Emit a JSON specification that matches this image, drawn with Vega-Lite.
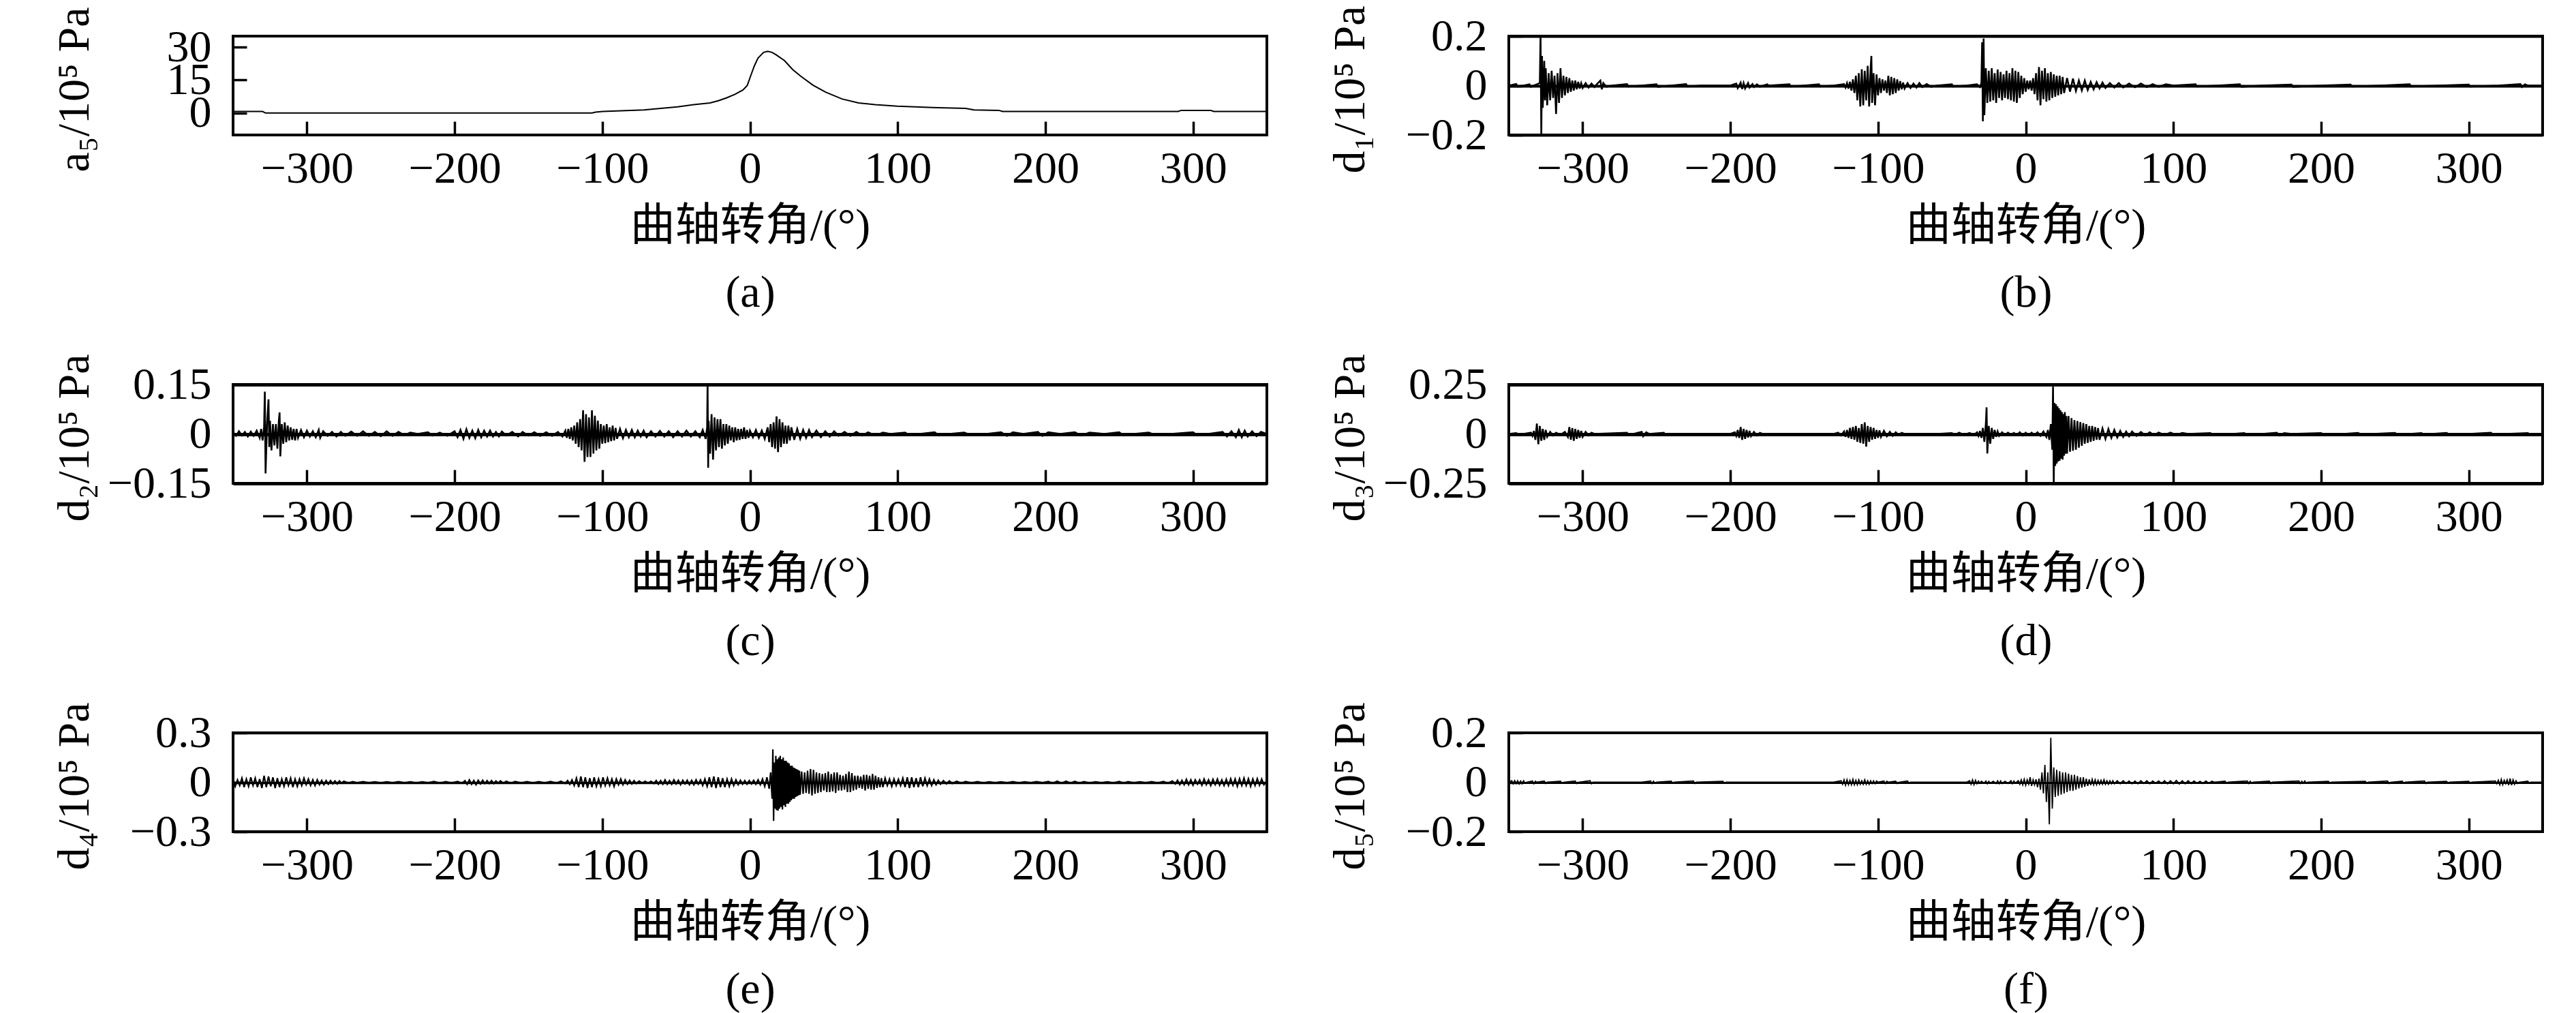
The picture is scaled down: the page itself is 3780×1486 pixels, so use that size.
{
  "$schema": "https://vega.github.io/schema/vega-lite/v6.json",
  "description": "Wavelet decomposition of cylinder pressure: a5 approximation and d1-d5 details vs crank angle",
  "background": "white",
  "padding": {"left": 74, "top": 6, "right": 0, "bottom": 0},
  "autosize": {"type": "pad"},
  "datasets": {
    "a5": [
      {"deg": -350, "val": 0.7}, {"deg": -330, "val": 0.7}, {"deg": -328, "val": 0}, {"deg": -200, "val": 0},
      {"deg": -107, "val": 0}, {"deg": -104.6, "val": 0.4}, {"deg": -99.6, "val": 0.7}, {"deg": -71.7, "val": 1.4},
      {"deg": -60.5, "val": 2.1}, {"deg": -49, "val": 2.8}, {"deg": -38, "val": 3.8}, {"deg": -27, "val": 4.6},
      {"deg": -21.4, "val": 5.6}, {"deg": -15.8, "val": 6.9}, {"deg": -10.2, "val": 8.5}, {"deg": -4.7, "val": 10.5},
      {"deg": -1.8, "val": 12.6}, {"deg": 0.9, "val": 17.7}, {"deg": 3, "val": 21.5}, {"deg": 5.4, "val": 25},
      {"deg": 9.2, "val": 27.6}, {"deg": 12, "val": 28.1}, {"deg": 15, "val": 27.6}, {"deg": 17.7, "val": 26.5},
      {"deg": 23.3, "val": 23.9}, {"deg": 28.9, "val": 19.8}, {"deg": 34.5, "val": 16.7}, {"deg": 42.8, "val": 12.6},
      {"deg": 51.2, "val": 9.5}, {"deg": 62.3, "val": 6.4}, {"deg": 73.5, "val": 4.6}, {"deg": 84.7, "val": 3.8},
      {"deg": 99.8, "val": 3.1}, {"deg": 123.8, "val": 2.5}, {"deg": 146, "val": 2.1}, {"deg": 151.7, "val": 1.4},
      {"deg": 168.5, "val": 1.2}, {"deg": 171, "val": 0.7}, {"deg": 290, "val": 0.7}, {"deg": 292, "val": 1.2},
      {"deg": 312, "val": 1.2}, {"deg": 314, "val": 0.7}, {"deg": 350, "val": 0.7}
    ],
    "d1": [
      {"deg": -350, "val": 0}, {"deg": -345, "val": 0.006}, {"deg": -344, "val": -0.004}, {"deg": -340, "val": 0},
      {"deg": -336, "val": 0.005}, {"deg": -335, "val": -0.005}, {"deg": -333, "val": 0}, {"deg": -329, "val": 0.01},
      {"deg": -328.5, "val": 0.21}, {"deg": -328, "val": -0.21}, {"deg": -327.5, "val": 0.12}, {"deg": -327, "val": -0.09},
      {"deg": -326, "val": 0.1}, {"deg": -325.5, "val": -0.06}, {"deg": -325, "val": 0.07}, {"deg": -324, "val": -0.08},
      {"deg": -323, "val": 0.05}, {"deg": -322, "val": -0.06}, {"deg": -321, "val": 0.06}, {"deg": -320, "val": -0.05},
      {"deg": -319, "val": 0.04}, {"deg": -318, "val": -0.115}, {"deg": -317, "val": 0.05}, {"deg": -316, "val": -0.07},
      {"deg": -315, "val": 0.07}, {"deg": -314, "val": -0.05}, {"deg": -313, "val": 0.04}, {"deg": -312, "val": -0.04},
      {"deg": -311, "val": 0.035}, {"deg": -310, "val": -0.03}, {"deg": -309, "val": 0.03}, {"deg": -308, "val": -0.025},
      {"deg": -307, "val": 0.02}, {"deg": -306, "val": -0.02}, {"deg": -305, "val": 0.02}, {"deg": -304, "val": -0.015},
      {"deg": -303, "val": 0.015}, {"deg": -302, "val": -0.012}, {"deg": -301, "val": 0.01}, {"deg": -300, "val": -0.01},
      {"deg": -298, "val": 0.01}, {"deg": -296, "val": -0.008}, {"deg": -294, "val": 0.008}, {"deg": -292, "val": -0.006},
      {"deg": -290, "val": 0.008}, {"deg": -288, "val": 0.02}, {"deg": -287, "val": -0.015}, {"deg": -286, "val": 0.01},
      {"deg": -284, "val": -0.005}, {"deg": -280, "val": 0}, {"deg": -270, "val": 0.006}, {"deg": -269, "val": -0.004},
      {"deg": -260, "val": 0}, {"deg": -250, "val": 0.005}, {"deg": -249, "val": -0.005}, {"deg": -240, "val": 0},
      {"deg": -230, "val": 0.006}, {"deg": -229, "val": -0.004}, {"deg": -220, "val": 0}, {"deg": -200, "val": 0},
      {"deg": -196, "val": 0.008}, {"deg": -195, "val": -0.01}, {"deg": -193, "val": 0.012}, {"deg": -192, "val": -0.014},
      {"deg": -191, "val": 0.01}, {"deg": -190, "val": -0.012}, {"deg": -188, "val": 0.01}, {"deg": -187, "val": -0.008},
      {"deg": -185, "val": 0.006}, {"deg": -184, "val": -0.006}, {"deg": -182, "val": 0.005}, {"deg": -180, "val": -0.005},
      {"deg": -175, "val": 0.005}, {"deg": -174, "val": 0}, {"deg": -160, "val": 0.005}, {"deg": -159, "val": -0.004},
      {"deg": -150, "val": 0}, {"deg": -140, "val": 0.005}, {"deg": -139, "val": -0.004}, {"deg": -130, "val": 0},
      {"deg": -123, "val": 0.006}, {"deg": -122, "val": -0.008}, {"deg": -121, "val": 0.01}, {"deg": -120, "val": -0.012},
      {"deg": -119, "val": 0.015}, {"deg": -118, "val": -0.02}, {"deg": -117, "val": 0.025}, {"deg": -116, "val": -0.03},
      {"deg": -115, "val": 0.04}, {"deg": -114, "val": -0.06}, {"deg": -113, "val": 0.05}, {"deg": -112, "val": -0.085},
      {"deg": -111, "val": 0.066}, {"deg": -110, "val": -0.08}, {"deg": -109, "val": 0.06}, {"deg": -108, "val": -0.06},
      {"deg": -107, "val": 0.08}, {"deg": -106, "val": -0.085}, {"deg": -105, "val": 0.07}, {"deg": -104.5, "val": 0.12},
      {"deg": -104, "val": -0.07}, {"deg": -103, "val": 0.05}, {"deg": -102, "val": -0.08}, {"deg": -101, "val": 0.045},
      {"deg": -100, "val": -0.04}, {"deg": -99, "val": 0.03}, {"deg": -98, "val": -0.03}, {"deg": -97, "val": 0.025},
      {"deg": -96, "val": -0.02}, {"deg": -95, "val": 0.02}, {"deg": -94, "val": -0.03}, {"deg": -93, "val": 0.04},
      {"deg": -92, "val": -0.04}, {"deg": -91, "val": 0.035}, {"deg": -90, "val": -0.035}, {"deg": -89, "val": 0.03},
      {"deg": -88, "val": -0.03}, {"deg": -87, "val": 0.025}, {"deg": -86, "val": -0.02}, {"deg": -85, "val": 0.018},
      {"deg": -84, "val": -0.015}, {"deg": -83, "val": 0.012}, {"deg": -82, "val": -0.012}, {"deg": -80, "val": 0.01},
      {"deg": -78, "val": -0.01}, {"deg": -76, "val": 0.008}, {"deg": -74, "val": -0.008}, {"deg": -72, "val": 0.01},
      {"deg": -70, "val": -0.006}, {"deg": -67, "val": 0.006}, {"deg": -64, "val": -0.005}, {"deg": -60, "val": 0},
      {"deg": -50, "val": 0.005}, {"deg": -49, "val": -0.004}, {"deg": -40, "val": 0}, {"deg": -33, "val": 0.005},
      {"deg": -31, "val": -0.006}, {"deg": -30, "val": 0.01}, {"deg": -29.5, "val": 0.175}, {"deg": -29, "val": -0.145},
      {"deg": -28.5, "val": 0.19}, {"deg": -28, "val": -0.12}, {"deg": -27, "val": 0.07}, {"deg": -26, "val": -0.07},
      {"deg": -25, "val": 0.06}, {"deg": -24, "val": -0.065}, {"deg": -23, "val": 0.07}, {"deg": -22, "val": -0.06},
      {"deg": -21, "val": 0.05}, {"deg": -20, "val": -0.07}, {"deg": -19, "val": 0.065}, {"deg": -18, "val": -0.05},
      {"deg": -17, "val": 0.055}, {"deg": -16, "val": -0.06}, {"deg": -15, "val": 0.045}, {"deg": -14, "val": -0.05},
      {"deg": -13, "val": 0.06}, {"deg": -12, "val": -0.055}, {"deg": -11, "val": 0.05}, {"deg": -10, "val": -0.06},
      {"deg": -9, "val": 0.07}, {"deg": -8, "val": -0.065}, {"deg": -7, "val": 0.06}, {"deg": -6, "val": -0.07},
      {"deg": -5, "val": 0.055}, {"deg": -4, "val": -0.05}, {"deg": -3, "val": 0.04}, {"deg": -2, "val": -0.035},
      {"deg": -1, "val": 0.03}, {"deg": 0, "val": -0.025}, {"deg": 1, "val": 0.02}, {"deg": 2, "val": -0.015},
      {"deg": 3, "val": 0.02}, {"deg": 4, "val": -0.02}, {"deg": 5, "val": 0.03}, {"deg": 6, "val": -0.035},
      {"deg": 7, "val": 0.05}, {"deg": 8, "val": -0.06}, {"deg": 9, "val": 0.075}, {"deg": 10, "val": -0.08},
      {"deg": 11, "val": 0.06}, {"deg": 12, "val": -0.055}, {"deg": 13, "val": 0.07}, {"deg": 14, "val": -0.065},
      {"deg": 15, "val": 0.05}, {"deg": 16, "val": -0.06}, {"deg": 17, "val": 0.055}, {"deg": 18, "val": -0.05},
      {"deg": 19, "val": 0.045}, {"deg": 20, "val": -0.045}, {"deg": 21, "val": 0.04}, {"deg": 22, "val": -0.04},
      {"deg": 23, "val": 0.04}, {"deg": 24, "val": -0.035}, {"deg": 25, "val": 0.035}, {"deg": 26, "val": -0.03},
      {"deg": 28, "val": 0.03}, {"deg": 30, "val": -0.025}, {"deg": 32, "val": 0.028}, {"deg": 34, "val": -0.022},
      {"deg": 36, "val": 0.02}, {"deg": 38, "val": -0.02}, {"deg": 40, "val": 0.02}, {"deg": 42, "val": -0.018},
      {"deg": 44, "val": 0.015}, {"deg": 46, "val": -0.015}, {"deg": 48, "val": 0.014}, {"deg": 50, "val": -0.012},
      {"deg": 52, "val": 0.012}, {"deg": 54, "val": -0.01}, {"deg": 57, "val": 0.01}, {"deg": 60, "val": -0.008},
      {"deg": 63, "val": 0.01}, {"deg": 66, "val": -0.008}, {"deg": 70, "val": 0.008}, {"deg": 74, "val": -0.007},
      {"deg": 78, "val": 0.008}, {"deg": 82, "val": -0.006}, {"deg": 86, "val": 0.006}, {"deg": 90, "val": -0.005},
      {"deg": 95, "val": 0.005}, {"deg": 100, "val": 0}, {"deg": 115, "val": 0.005}, {"deg": 116, "val": -0.004},
      {"deg": 130, "val": 0}, {"deg": 145, "val": 0.005}, {"deg": 146, "val": -0.005}, {"deg": 160, "val": 0},
      {"deg": 180, "val": 0.004}, {"deg": 181, "val": -0.005}, {"deg": 200, "val": 0}, {"deg": 220, "val": 0.004},
      {"deg": 221, "val": -0.004}, {"deg": 240, "val": 0}, {"deg": 260, "val": 0.005}, {"deg": 261, "val": -0.004},
      {"deg": 280, "val": 0}, {"deg": 300, "val": 0.004}, {"deg": 301, "val": -0.004}, {"deg": 320, "val": 0},
      {"deg": 335, "val": 0.006}, {"deg": 336, "val": -0.006}, {"deg": 338, "val": 0.005}, {"deg": 340, "val": 0},
      {"deg": 350, "val": 0}
    ],
    "d2": [
      {"deg": -350, "val": 0.005}, {"deg": -348, "val": -0.006}, {"deg": -346, "val": 0.008}, {"deg": -344, "val": -0.005},
      {"deg": -342, "val": 0.006}, {"deg": -340, "val": -0.008}, {"deg": -338, "val": 0.007}, {"deg": -336, "val": -0.006},
      {"deg": -334, "val": 0.01}, {"deg": -332, "val": -0.012}, {"deg": -331, "val": 0.015}, {"deg": -330, "val": -0.02},
      {"deg": -329, "val": 0.02}, {"deg": -328.5, "val": 0.128}, {"deg": -328, "val": -0.12}, {"deg": -327, "val": 0.03},
      {"deg": -326, "val": 0.105}, {"deg": -325.5, "val": -0.04}, {"deg": -325, "val": 0.04}, {"deg": -324, "val": -0.05},
      {"deg": -323, "val": 0.03}, {"deg": -322, "val": -0.035}, {"deg": -321, "val": 0.03}, {"deg": -320, "val": -0.045},
      {"deg": -319, "val": 0.04}, {"deg": -318.5, "val": 0.065}, {"deg": -318, "val": -0.068}, {"deg": -317, "val": 0.03},
      {"deg": -316, "val": -0.03}, {"deg": -315, "val": 0.035}, {"deg": -314, "val": -0.025}, {"deg": -313, "val": 0.025},
      {"deg": -312, "val": -0.02}, {"deg": -311, "val": 0.02}, {"deg": -310, "val": -0.018}, {"deg": -309, "val": 0.015},
      {"deg": -308, "val": -0.02}, {"deg": -307, "val": 0.015}, {"deg": -306, "val": -0.012}, {"deg": -304, "val": 0.012},
      {"deg": -302, "val": -0.01}, {"deg": -300, "val": 0.01}, {"deg": -298, "val": -0.008}, {"deg": -296, "val": 0.008},
      {"deg": -294, "val": -0.01}, {"deg": -292, "val": 0.012}, {"deg": -291, "val": -0.012}, {"deg": -289, "val": 0.008},
      {"deg": -286, "val": -0.006}, {"deg": -283, "val": 0.006}, {"deg": -280, "val": -0.008}, {"deg": -277, "val": 0.006},
      {"deg": -274, "val": -0.006}, {"deg": -270, "val": 0.007}, {"deg": -266, "val": -0.006}, {"deg": -262, "val": 0.008},
      {"deg": -258, "val": -0.006}, {"deg": -254, "val": 0.006}, {"deg": -250, "val": -0.007}, {"deg": -246, "val": 0.008},
      {"deg": -242, "val": -0.006}, {"deg": -238, "val": 0.006}, {"deg": -234, "val": -0.004}, {"deg": -230, "val": 0.004},
      {"deg": -225, "val": 0}, {"deg": -218, "val": 0.005}, {"deg": -215, "val": -0.005}, {"deg": -210, "val": 0.004},
      {"deg": -205, "val": -0.006}, {"deg": -200, "val": 0.008}, {"deg": -198, "val": -0.01}, {"deg": -196, "val": 0.012},
      {"deg": -194, "val": -0.015}, {"deg": -192, "val": 0.014}, {"deg": -190, "val": -0.012}, {"deg": -188, "val": 0.01},
      {"deg": -186, "val": -0.013}, {"deg": -184, "val": 0.012}, {"deg": -182, "val": -0.01}, {"deg": -180, "val": 0.01},
      {"deg": -178, "val": -0.008}, {"deg": -176, "val": 0.01}, {"deg": -174, "val": -0.008}, {"deg": -172, "val": 0.006},
      {"deg": -170, "val": -0.008}, {"deg": -168, "val": 0.007}, {"deg": -165, "val": -0.005}, {"deg": -161, "val": 0.006},
      {"deg": -157, "val": -0.008}, {"deg": -154, "val": 0.006}, {"deg": -150, "val": -0.005}, {"deg": -146, "val": 0.005},
      {"deg": -142, "val": -0.006}, {"deg": -138, "val": 0.005}, {"deg": -134, "val": -0.006}, {"deg": -130, "val": 0.006},
      {"deg": -127, "val": -0.008}, {"deg": -125, "val": 0.01}, {"deg": -124, "val": -0.012}, {"deg": -123, "val": 0.015},
      {"deg": -122, "val": -0.015}, {"deg": -121, "val": 0.02}, {"deg": -120, "val": -0.02}, {"deg": -119, "val": 0.025},
      {"deg": -118, "val": -0.03}, {"deg": -117, "val": 0.035}, {"deg": -116, "val": -0.04}, {"deg": -115, "val": 0.045},
      {"deg": -114, "val": -0.05}, {"deg": -113, "val": 0.072}, {"deg": -112, "val": -0.085}, {"deg": -111, "val": 0.06},
      {"deg": -110, "val": -0.07}, {"deg": -109, "val": 0.05}, {"deg": -108, "val": -0.07}, {"deg": -107, "val": 0.072},
      {"deg": -106, "val": -0.06}, {"deg": -105, "val": 0.055}, {"deg": -104, "val": -0.05}, {"deg": -103, "val": 0.04},
      {"deg": -102, "val": -0.045}, {"deg": -101, "val": 0.03}, {"deg": -100, "val": -0.03}, {"deg": -99, "val": 0.025},
      {"deg": -98, "val": -0.028}, {"deg": -97, "val": 0.03}, {"deg": -96, "val": -0.025}, {"deg": -95, "val": 0.02},
      {"deg": -94, "val": -0.022}, {"deg": -93, "val": 0.025}, {"deg": -92, "val": -0.02}, {"deg": -91, "val": 0.018},
      {"deg": -90, "val": -0.015}, {"deg": -88, "val": 0.015}, {"deg": -86, "val": -0.013}, {"deg": -84, "val": 0.012},
      {"deg": -82, "val": -0.01}, {"deg": -80, "val": 0.012}, {"deg": -78, "val": -0.01}, {"deg": -76, "val": 0.01},
      {"deg": -74, "val": -0.008}, {"deg": -72, "val": 0.01}, {"deg": -70, "val": -0.01}, {"deg": -67, "val": 0.008},
      {"deg": -64, "val": -0.008}, {"deg": -61, "val": 0.009}, {"deg": -58, "val": -0.008}, {"deg": -55, "val": 0.008},
      {"deg": -52, "val": -0.01}, {"deg": -49, "val": 0.008}, {"deg": -46, "val": -0.008}, {"deg": -43, "val": 0.01},
      {"deg": -40, "val": -0.008}, {"deg": -37, "val": 0.008}, {"deg": -34, "val": -0.01}, {"deg": -32, "val": 0.012},
      {"deg": -30, "val": -0.015}, {"deg": -29, "val": 0.02}, {"deg": -28.7, "val": 0.16}, {"deg": -28.3, "val": -0.103},
      {"deg": -28, "val": 0.04}, {"deg": -27, "val": -0.06}, {"deg": -26, "val": 0.06}, {"deg": -25, "val": -0.078},
      {"deg": -24, "val": 0.05}, {"deg": -23, "val": -0.05}, {"deg": -22, "val": 0.045}, {"deg": -21, "val": -0.04},
      {"deg": -20, "val": 0.045}, {"deg": -19, "val": -0.045}, {"deg": -18, "val": 0.03}, {"deg": -17, "val": -0.035},
      {"deg": -16, "val": 0.03}, {"deg": -15, "val": -0.03}, {"deg": -14, "val": 0.025}, {"deg": -13, "val": -0.02},
      {"deg": -12, "val": 0.02}, {"deg": -11, "val": -0.025}, {"deg": -10, "val": 0.02}, {"deg": -9, "val": -0.02},
      {"deg": -8, "val": 0.015}, {"deg": -7, "val": -0.018}, {"deg": -6, "val": 0.015}, {"deg": -5, "val": -0.015},
      {"deg": -4, "val": 0.02}, {"deg": -3, "val": -0.015}, {"deg": -2, "val": 0.012}, {"deg": -1, "val": -0.012},
      {"deg": 0, "val": 0.01}, {"deg": 2, "val": -0.01}, {"deg": 4, "val": 0.012}, {"deg": 6, "val": -0.012},
      {"deg": 8, "val": 0.01}, {"deg": 10, "val": -0.015}, {"deg": 12, "val": 0.02}, {"deg": 13, "val": -0.025},
      {"deg": 14, "val": 0.03}, {"deg": 15, "val": -0.04}, {"deg": 16, "val": 0.035}, {"deg": 17, "val": -0.045},
      {"deg": 18, "val": 0.053}, {"deg": 19, "val": -0.055}, {"deg": 20, "val": 0.045}, {"deg": 21, "val": -0.04},
      {"deg": 22, "val": 0.035}, {"deg": 23, "val": -0.03}, {"deg": 24, "val": 0.025}, {"deg": 25, "val": -0.03},
      {"deg": 26, "val": 0.025}, {"deg": 27, "val": -0.02}, {"deg": 28, "val": 0.02}, {"deg": 30, "val": -0.018},
      {"deg": 32, "val": 0.015}, {"deg": 34, "val": -0.015}, {"deg": 36, "val": 0.012}, {"deg": 38, "val": -0.012},
      {"deg": 40, "val": 0.012}, {"deg": 42, "val": -0.01}, {"deg": 45, "val": 0.01}, {"deg": 48, "val": -0.01},
      {"deg": 51, "val": 0.008}, {"deg": 54, "val": -0.008}, {"deg": 57, "val": 0.008}, {"deg": 60, "val": -0.006},
      {"deg": 64, "val": 0.006}, {"deg": 68, "val": -0.006}, {"deg": 72, "val": 0.006}, {"deg": 76, "val": -0.005},
      {"deg": 80, "val": 0.005}, {"deg": 85, "val": -0.005}, {"deg": 90, "val": 0.004}, {"deg": 95, "val": 0},
      {"deg": 105, "val": 0.004}, {"deg": 108, "val": -0.004}, {"deg": 115, "val": 0}, {"deg": 125, "val": 0.005},
      {"deg": 128, "val": -0.005}, {"deg": 135, "val": 0}, {"deg": 145, "val": 0.004}, {"deg": 150, "val": -0.004},
      {"deg": 160, "val": 0}, {"deg": 170, "val": 0.005}, {"deg": 174, "val": -0.006}, {"deg": 178, "val": 0.005},
      {"deg": 185, "val": 0}, {"deg": 195, "val": 0.006}, {"deg": 198, "val": -0.006}, {"deg": 202, "val": 0.005},
      {"deg": 210, "val": 0}, {"deg": 220, "val": 0.005}, {"deg": 224, "val": -0.005}, {"deg": 230, "val": 0.004},
      {"deg": 240, "val": 0}, {"deg": 250, "val": 0.005}, {"deg": 253, "val": -0.005}, {"deg": 260, "val": 0},
      {"deg": 270, "val": 0.004}, {"deg": 275, "val": -0.004}, {"deg": 285, "val": 0}, {"deg": 300, "val": 0.005},
      {"deg": 303, "val": -0.005}, {"deg": 310, "val": 0}, {"deg": 320, "val": 0.006}, {"deg": 323, "val": -0.008},
      {"deg": 326, "val": 0.008}, {"deg": 329, "val": -0.01}, {"deg": 331, "val": 0.012}, {"deg": 333, "val": -0.01},
      {"deg": 335, "val": 0.01}, {"deg": 337, "val": -0.008}, {"deg": 340, "val": 0.008}, {"deg": 343, "val": -0.007},
      {"deg": 346, "val": 0.006}, {"deg": 350, "val": 0}
    ],
    "d3": [
      {"deg": -350, "val": 0}, {"deg": -345, "val": 0.004}, {"deg": -343, "val": -0.004}, {"deg": -340, "val": 0},
      {"deg": -335, "val": 0.006}, {"deg": -334, "val": -0.01}, {"deg": -333, "val": 0.015}, {"deg": -332, "val": -0.03},
      {"deg": -331, "val": 0.052}, {"deg": -330, "val": -0.052}, {"deg": -329, "val": 0.04}, {"deg": -328, "val": -0.035},
      {"deg": -327, "val": 0.025}, {"deg": -326, "val": -0.03}, {"deg": -325, "val": 0.02}, {"deg": -324, "val": -0.015},
      {"deg": -322, "val": 0.01}, {"deg": -320, "val": -0.008}, {"deg": -318, "val": 0.006}, {"deg": -315, "val": -0.005},
      {"deg": -312, "val": 0.01}, {"deg": -310, "val": -0.015}, {"deg": -309, "val": 0.035}, {"deg": -308, "val": -0.03},
      {"deg": -307, "val": 0.03}, {"deg": -306, "val": -0.035}, {"deg": -305, "val": 0.025}, {"deg": -304, "val": -0.025},
      {"deg": -303, "val": 0.02}, {"deg": -302, "val": -0.02}, {"deg": -301, "val": 0.015}, {"deg": -300, "val": -0.015},
      {"deg": -298, "val": 0.01}, {"deg": -296, "val": -0.008}, {"deg": -294, "val": 0.006}, {"deg": -292, "val": 0},
      {"deg": -270, "val": 0.006}, {"deg": -269, "val": -0.006}, {"deg": -260, "val": 0.01}, {"deg": -259, "val": -0.012},
      {"deg": -257, "val": 0.008}, {"deg": -255, "val": 0}, {"deg": -245, "val": 0.006}, {"deg": -244, "val": -0.006},
      {"deg": -238, "val": 0}, {"deg": -200, "val": 0}, {"deg": -197, "val": 0.008}, {"deg": -196, "val": -0.01},
      {"deg": -195, "val": 0.02}, {"deg": -194, "val": -0.02}, {"deg": -193, "val": 0.035}, {"deg": -192, "val": -0.03},
      {"deg": -191, "val": 0.025}, {"deg": -190, "val": -0.025}, {"deg": -189, "val": 0.02}, {"deg": -188, "val": -0.018},
      {"deg": -187, "val": 0.015}, {"deg": -186, "val": -0.012}, {"deg": -184, "val": 0.01}, {"deg": -182, "val": -0.008},
      {"deg": -180, "val": 0.005}, {"deg": -178, "val": 0}, {"deg": -130, "val": 0}, {"deg": -127, "val": 0.006},
      {"deg": -125, "val": -0.008}, {"deg": -123, "val": 0.012}, {"deg": -122, "val": -0.015}, {"deg": -121, "val": 0.02},
      {"deg": -120, "val": -0.02}, {"deg": -119, "val": 0.03}, {"deg": -118, "val": -0.025}, {"deg": -117, "val": 0.035},
      {"deg": -116, "val": -0.03}, {"deg": -115, "val": 0.04}, {"deg": -114, "val": -0.04}, {"deg": -113, "val": 0.03},
      {"deg": -112, "val": -0.045}, {"deg": -111, "val": 0.05}, {"deg": -110, "val": -0.05}, {"deg": -109, "val": 0.058},
      {"deg": -108, "val": -0.064}, {"deg": -107, "val": 0.04}, {"deg": -106, "val": -0.04}, {"deg": -105, "val": 0.035},
      {"deg": -104, "val": -0.03}, {"deg": -103, "val": 0.03}, {"deg": -102, "val": -0.025}, {"deg": -101, "val": 0.02},
      {"deg": -100, "val": -0.02}, {"deg": -99, "val": 0.018}, {"deg": -98, "val": -0.015}, {"deg": -96, "val": 0.015},
      {"deg": -94, "val": -0.012}, {"deg": -92, "val": 0.01}, {"deg": -90, "val": -0.01}, {"deg": -88, "val": 0.008},
      {"deg": -86, "val": -0.006}, {"deg": -84, "val": 0.005}, {"deg": -82, "val": 0}, {"deg": -60, "val": 0},
      {"deg": -50, "val": 0.004}, {"deg": -48, "val": -0.005}, {"deg": -45, "val": 0.006}, {"deg": -42, "val": -0.005},
      {"deg": -38, "val": 0.005}, {"deg": -35, "val": -0.006}, {"deg": -33, "val": 0.008}, {"deg": -32, "val": -0.01},
      {"deg": -31, "val": 0.015}, {"deg": -30, "val": -0.02}, {"deg": -29, "val": 0.03}, {"deg": -28, "val": -0.04},
      {"deg": -27, "val": 0.05}, {"deg": -26.5, "val": 0.134}, {"deg": -26, "val": -0.099}, {"deg": -25, "val": 0.04},
      {"deg": -24, "val": -0.05}, {"deg": -23, "val": 0.03}, {"deg": -22, "val": -0.025}, {"deg": -21, "val": 0.02},
      {"deg": -20, "val": -0.015}, {"deg": -19, "val": 0.012}, {"deg": -18, "val": -0.01}, {"deg": -16, "val": 0.008},
      {"deg": -14, "val": -0.006}, {"deg": -12, "val": 0.006}, {"deg": -10, "val": -0.005}, {"deg": -8, "val": 0.005},
      {"deg": -6, "val": -0.006}, {"deg": -4, "val": 0.008}, {"deg": -2, "val": -0.008}, {"deg": 0, "val": 0.006},
      {"deg": 2, "val": -0.006}, {"deg": 4, "val": 0.006}, {"deg": 6, "val": -0.007}, {"deg": 8, "val": 0.008},
      {"deg": 10, "val": -0.01}, {"deg": 12, "val": 0.012}, {"deg": 14, "val": -0.015}, {"deg": 15, "val": 0.02},
      {"deg": 16, "val": -0.03}, {"deg": 17, "val": 0.05}, {"deg": 18, "val": -0.08}, {"deg": 18.5, "val": 0.239},
      {"deg": 19, "val": -0.26}, {"deg": 19.5, "val": 0.157}, {"deg": 20, "val": -0.162}, {"deg": 20.5, "val": 0.15},
      {"deg": 21, "val": -0.15}, {"deg": 21.5, "val": 0.14}, {"deg": 22, "val": -0.14}, {"deg": 22.5, "val": 0.13},
      {"deg": 23, "val": -0.135}, {"deg": 23.5, "val": 0.12}, {"deg": 24, "val": -0.125}, {"deg": 24.5, "val": 0.11},
      {"deg": 25, "val": -0.13}, {"deg": 25.5, "val": 0.1}, {"deg": 26, "val": -0.11}, {"deg": 26.5, "val": 0.11},
      {"deg": 27, "val": -0.1}, {"deg": 27.5, "val": 0.09}, {"deg": 28, "val": -0.1}, {"deg": 29, "val": 0.09},
      {"deg": 30, "val": -0.09}, {"deg": 31, "val": 0.08}, {"deg": 32, "val": -0.085}, {"deg": 33, "val": 0.07},
      {"deg": 34, "val": -0.08}, {"deg": 35, "val": 0.065}, {"deg": 36, "val": -0.07}, {"deg": 37, "val": 0.06},
      {"deg": 38, "val": -0.06}, {"deg": 39, "val": 0.055}, {"deg": 40, "val": -0.05}, {"deg": 41, "val": 0.05},
      {"deg": 42, "val": -0.045}, {"deg": 43, "val": 0.04}, {"deg": 44, "val": -0.04}, {"deg": 45, "val": 0.04},
      {"deg": 46, "val": -0.035}, {"deg": 47, "val": 0.035}, {"deg": 48, "val": -0.03}, {"deg": 49, "val": 0.03},
      {"deg": 50, "val": -0.03}, {"deg": 52, "val": 0.028}, {"deg": 54, "val": -0.025}, {"deg": 56, "val": 0.025},
      {"deg": 58, "val": -0.02}, {"deg": 60, "val": 0.02}, {"deg": 62, "val": -0.018}, {"deg": 64, "val": 0.015},
      {"deg": 66, "val": -0.015}, {"deg": 68, "val": 0.012}, {"deg": 70, "val": -0.012}, {"deg": 72, "val": 0.012},
      {"deg": 75, "val": -0.01}, {"deg": 78, "val": 0.01}, {"deg": 81, "val": -0.008}, {"deg": 84, "val": 0.008},
      {"deg": 87, "val": -0.007}, {"deg": 90, "val": 0.007}, {"deg": 94, "val": -0.006}, {"deg": 98, "val": 0.006},
      {"deg": 102, "val": -0.005}, {"deg": 106, "val": 0.005}, {"deg": 110, "val": 0}, {"deg": 125, "val": 0.004},
      {"deg": 127, "val": -0.004}, {"deg": 140, "val": 0}, {"deg": 148, "val": 0.004}, {"deg": 150, "val": -0.005},
      {"deg": 160, "val": 0}, {"deg": 170, "val": 0.006}, {"deg": 172, "val": -0.008}, {"deg": 175, "val": 0.004},
      {"deg": 180, "val": 0}, {"deg": 200, "val": 0.004}, {"deg": 202, "val": -0.004}, {"deg": 215, "val": 0},
      {"deg": 225, "val": 0.005}, {"deg": 228, "val": -0.006}, {"deg": 235, "val": 0}, {"deg": 250, "val": 0.005},
      {"deg": 252, "val": -0.005}, {"deg": 260, "val": 0}, {"deg": 268, "val": 0.004}, {"deg": 270, "val": -0.005},
      {"deg": 275, "val": 0}, {"deg": 285, "val": 0.005}, {"deg": 287, "val": -0.004}, {"deg": 300, "val": 0},
      {"deg": 315, "val": 0.006}, {"deg": 317, "val": -0.005}, {"deg": 325, "val": 0}, {"deg": 340, "val": 0.004},
      {"deg": 342, "val": -0.006}, {"deg": 345, "val": 0}, {"deg": 350, "val": 0}
    ],
    "d4": [
      {"deg": -350, "val": 0.02}, {"deg": -348.5, "val": -0.025}, {"deg": -347, "val": 0.015}, {"deg": -345.5, "val": -0.02},
      {"deg": -344, "val": 0.025}, {"deg": -342.5, "val": -0.03}, {"deg": -341, "val": 0.02}, {"deg": -339.5, "val": -0.025},
      {"deg": -338, "val": 0.03}, {"deg": -336.5, "val": -0.02}, {"deg": -335, "val": 0.025}, {"deg": -333.5, "val": -0.03},
      {"deg": -332, "val": 0.02}, {"deg": -330.5, "val": -0.035}, {"deg": -329, "val": 0.04}, {"deg": -327.5, "val": -0.03},
      {"deg": -326, "val": 0.035}, {"deg": -324.5, "val": -0.025}, {"deg": -323, "val": 0.03}, {"deg": -321.5, "val": -0.035},
      {"deg": -320, "val": 0.025}, {"deg": -318.5, "val": -0.03}, {"deg": -317, "val": 0.02}, {"deg": -315.5, "val": -0.025},
      {"deg": -314, "val": 0.03}, {"deg": -312.5, "val": -0.02}, {"deg": -311, "val": 0.025}, {"deg": -309.5, "val": -0.03},
      {"deg": -308, "val": 0.02}, {"deg": -306.5, "val": -0.025}, {"deg": -305, "val": 0.02}, {"deg": -303.5, "val": -0.02},
      {"deg": -302, "val": 0.025}, {"deg": -300.5, "val": -0.015}, {"deg": -299, "val": 0.02}, {"deg": -297.5, "val": -0.02},
      {"deg": -296, "val": 0.015}, {"deg": -294.5, "val": -0.02}, {"deg": -293, "val": 0.015}, {"deg": -291.5, "val": -0.015},
      {"deg": -290, "val": 0.012}, {"deg": -288.5, "val": -0.015}, {"deg": -287, "val": 0.01}, {"deg": -285.5, "val": -0.012},
      {"deg": -284, "val": 0.01}, {"deg": -282.5, "val": -0.01}, {"deg": -281, "val": 0.008}, {"deg": -279.5, "val": -0.01},
      {"deg": -278, "val": 0.008}, {"deg": -276.5, "val": -0.006}, {"deg": -275, "val": 0.006}, {"deg": -272, "val": -0.005},
      {"deg": -269, "val": 0.004}, {"deg": -266, "val": -0.003}, {"deg": -262, "val": 0.004}, {"deg": -258, "val": -0.003},
      {"deg": -254, "val": 0.003}, {"deg": -250, "val": -0.004}, {"deg": -246, "val": 0.003}, {"deg": -242, "val": -0.003},
      {"deg": -238, "val": 0.004}, {"deg": -234, "val": -0.003}, {"deg": -230, "val": 0.003}, {"deg": -226, "val": -0.004},
      {"deg": -222, "val": 0.003}, {"deg": -218, "val": -0.003}, {"deg": -214, "val": 0.005}, {"deg": -210, "val": -0.005},
      {"deg": -206, "val": 0.004}, {"deg": -202, "val": -0.004}, {"deg": -198, "val": 0.005}, {"deg": -195, "val": -0.006},
      {"deg": -193, "val": 0.01}, {"deg": -191.5, "val": -0.012}, {"deg": -190, "val": 0.015}, {"deg": -188.5, "val": -0.012},
      {"deg": -187, "val": 0.01}, {"deg": -185.5, "val": -0.015}, {"deg": -184, "val": 0.012}, {"deg": -182.5, "val": -0.01},
      {"deg": -181, "val": 0.012}, {"deg": -179.5, "val": -0.008}, {"deg": -178, "val": 0.01}, {"deg": -176.5, "val": -0.008},
      {"deg": -175, "val": 0.01}, {"deg": -173.5, "val": -0.008}, {"deg": -172, "val": 0.008}, {"deg": -170.5, "val": -0.006},
      {"deg": -169, "val": 0.008}, {"deg": -167, "val": -0.006}, {"deg": -165, "val": 0.006}, {"deg": -162, "val": -0.006},
      {"deg": -159, "val": 0.005}, {"deg": -155, "val": -0.004}, {"deg": -151, "val": 0.004}, {"deg": -147, "val": -0.004},
      {"deg": -143, "val": 0.004}, {"deg": -139, "val": -0.004}, {"deg": -135, "val": 0.005}, {"deg": -131, "val": -0.005},
      {"deg": -128, "val": 0.006}, {"deg": -125, "val": -0.008}, {"deg": -123.5, "val": 0.01}, {"deg": -122, "val": -0.012},
      {"deg": -120.5, "val": 0.015}, {"deg": -119, "val": -0.02}, {"deg": -117.5, "val": 0.025}, {"deg": -116, "val": -0.03},
      {"deg": -114.5, "val": 0.035}, {"deg": -113, "val": -0.03}, {"deg": -111.5, "val": 0.03}, {"deg": -110, "val": -0.035},
      {"deg": -108.5, "val": 0.025}, {"deg": -107, "val": -0.03}, {"deg": -105.5, "val": 0.03}, {"deg": -104, "val": -0.025},
      {"deg": -102.5, "val": 0.02}, {"deg": -101, "val": -0.025}, {"deg": -99.5, "val": 0.03}, {"deg": -98, "val": -0.02},
      {"deg": -96.5, "val": 0.025}, {"deg": -95, "val": -0.02}, {"deg": -93.5, "val": 0.02}, {"deg": -92, "val": -0.025},
      {"deg": -90.5, "val": 0.02}, {"deg": -89, "val": -0.015}, {"deg": -87.5, "val": 0.02}, {"deg": -86, "val": -0.015},
      {"deg": -84.5, "val": 0.015}, {"deg": -83, "val": -0.012}, {"deg": -81.5, "val": 0.012}, {"deg": -80, "val": -0.01},
      {"deg": -78.5, "val": 0.01}, {"deg": -77, "val": -0.008}, {"deg": -75, "val": 0.008}, {"deg": -73, "val": -0.006},
      {"deg": -71, "val": 0.006}, {"deg": -69, "val": -0.005}, {"deg": -67, "val": 0.006}, {"deg": -65, "val": -0.008},
      {"deg": -63.5, "val": 0.01}, {"deg": -62, "val": -0.012}, {"deg": -60.5, "val": 0.01}, {"deg": -59, "val": -0.012},
      {"deg": -57.5, "val": 0.015}, {"deg": -56, "val": -0.012}, {"deg": -54.5, "val": 0.01}, {"deg": -53, "val": -0.012},
      {"deg": -51.5, "val": 0.015}, {"deg": -50, "val": -0.01}, {"deg": -48.5, "val": 0.012}, {"deg": -47, "val": -0.015},
      {"deg": -45.5, "val": 0.012}, {"deg": -44, "val": -0.01}, {"deg": -42.5, "val": 0.012}, {"deg": -41, "val": -0.015},
      {"deg": -39.5, "val": 0.012}, {"deg": -38, "val": -0.015}, {"deg": -36.5, "val": 0.015}, {"deg": -35, "val": -0.012},
      {"deg": -33.5, "val": 0.015}, {"deg": -32, "val": -0.02}, {"deg": -30.5, "val": 0.02}, {"deg": -29, "val": -0.025},
      {"deg": -27.5, "val": 0.03}, {"deg": -26, "val": -0.03}, {"deg": -24.5, "val": 0.035}, {"deg": -23, "val": -0.035},
      {"deg": -21.5, "val": 0.03}, {"deg": -20, "val": -0.03}, {"deg": -18.5, "val": 0.025}, {"deg": -17, "val": -0.03},
      {"deg": -15.5, "val": 0.02}, {"deg": -14, "val": -0.025}, {"deg": -12.5, "val": 0.02}, {"deg": -11, "val": -0.02},
      {"deg": -9.5, "val": 0.015}, {"deg": -8, "val": -0.015}, {"deg": -6.5, "val": 0.012}, {"deg": -5, "val": -0.012},
      {"deg": -3.5, "val": 0.01}, {"deg": -2, "val": -0.012}, {"deg": -0.5, "val": 0.01}, {"deg": 1, "val": -0.01},
      {"deg": 2.5, "val": 0.012}, {"deg": 4, "val": -0.012}, {"deg": 5.5, "val": 0.015}, {"deg": 7, "val": -0.015},
      {"deg": 8.5, "val": 0.02}, {"deg": 10, "val": -0.025}, {"deg": 11.5, "val": 0.03}, {"deg": 13, "val": -0.04},
      {"deg": 14, "val": 0.06}, {"deg": 15, "val": -0.1}, {"deg": 15.5, "val": 0.2}, {"deg": 16, "val": -0.235},
      {"deg": 16.5, "val": 0.12}, {"deg": 17, "val": -0.16}, {"deg": 17.5, "val": 0.16}, {"deg": 18, "val": -0.17},
      {"deg": 18.5, "val": 0.14}, {"deg": 19, "val": -0.173}, {"deg": 19.5, "val": 0.15}, {"deg": 20, "val": -0.16},
      {"deg": 20.5, "val": 0.16}, {"deg": 21, "val": -0.15}, {"deg": 21.5, "val": 0.14}, {"deg": 22, "val": -0.165},
      {"deg": 22.5, "val": 0.15}, {"deg": 23, "val": -0.14}, {"deg": 23.5, "val": 0.13}, {"deg": 24, "val": -0.15},
      {"deg": 24.5, "val": 0.13}, {"deg": 25, "val": -0.13}, {"deg": 25.5, "val": 0.12}, {"deg": 26, "val": -0.13},
      {"deg": 26.5, "val": 0.115}, {"deg": 27, "val": -0.12}, {"deg": 27.5, "val": 0.1}, {"deg": 28, "val": -0.11},
      {"deg": 28.5, "val": 0.1}, {"deg": 29, "val": -0.1}, {"deg": 29.5, "val": 0.09}, {"deg": 30, "val": -0.1},
      {"deg": 30.5, "val": 0.085}, {"deg": 31, "val": -0.09}, {"deg": 31.5, "val": 0.08}, {"deg": 32, "val": -0.085},
      {"deg": 32.5, "val": 0.075}, {"deg": 33, "val": -0.08}, {"deg": 33.5, "val": 0.07}, {"deg": 34, "val": -0.075},
      {"deg": 35, "val": 0.065}, {"deg": 36, "val": -0.07}, {"deg": 37, "val": 0.06}, {"deg": 38, "val": -0.065},
      {"deg": 39, "val": 0.07}, {"deg": 40, "val": -0.07}, {"deg": 41, "val": 0.08}, {"deg": 42, "val": -0.08},
      {"deg": 43, "val": 0.075}, {"deg": 44, "val": -0.07}, {"deg": 45, "val": 0.06}, {"deg": 46, "val": -0.065},
      {"deg": 47, "val": 0.055}, {"deg": 48, "val": -0.06}, {"deg": 49, "val": 0.05}, {"deg": 50, "val": -0.05},
      {"deg": 51, "val": 0.055}, {"deg": 52, "val": -0.06}, {"deg": 53, "val": 0.065}, {"deg": 54, "val": -0.06},
      {"deg": 55, "val": 0.05}, {"deg": 56, "val": -0.055}, {"deg": 57, "val": 0.06}, {"deg": 58, "val": -0.065},
      {"deg": 59, "val": 0.06}, {"deg": 60, "val": -0.05}, {"deg": 61, "val": 0.045}, {"deg": 62, "val": -0.05},
      {"deg": 63, "val": 0.04}, {"deg": 64, "val": -0.045}, {"deg": 65, "val": 0.05}, {"deg": 66, "val": -0.06},
      {"deg": 67, "val": 0.065}, {"deg": 68, "val": -0.06}, {"deg": 69, "val": 0.055}, {"deg": 70, "val": -0.05},
      {"deg": 71, "val": 0.04}, {"deg": 72, "val": -0.045}, {"deg": 73, "val": 0.04}, {"deg": 74, "val": -0.035},
      {"deg": 75, "val": 0.035}, {"deg": 76, "val": -0.04}, {"deg": 77, "val": 0.045}, {"deg": 78, "val": -0.05},
      {"deg": 79, "val": 0.045}, {"deg": 80, "val": -0.04}, {"deg": 81, "val": 0.04}, {"deg": 82, "val": -0.045},
      {"deg": 83, "val": 0.05}, {"deg": 84, "val": -0.045}, {"deg": 85, "val": 0.04}, {"deg": 86, "val": -0.035},
      {"deg": 87, "val": 0.03}, {"deg": 88, "val": -0.03}, {"deg": 89, "val": 0.025}, {"deg": 90, "val": -0.03},
      {"deg": 91.5, "val": 0.025}, {"deg": 93, "val": -0.02}, {"deg": 94.5, "val": 0.02}, {"deg": 96, "val": -0.025},
      {"deg": 97.5, "val": 0.02}, {"deg": 99, "val": -0.02}, {"deg": 100.5, "val": 0.018}, {"deg": 102, "val": -0.02},
      {"deg": 103.5, "val": 0.025}, {"deg": 105, "val": -0.03}, {"deg": 106.5, "val": 0.03}, {"deg": 108, "val": -0.035},
      {"deg": 109.5, "val": 0.03}, {"deg": 111, "val": -0.03}, {"deg": 112.5, "val": 0.025}, {"deg": 114, "val": -0.03},
      {"deg": 115.5, "val": 0.03}, {"deg": 117, "val": -0.025}, {"deg": 118.5, "val": 0.025}, {"deg": 120, "val": -0.02},
      {"deg": 121.5, "val": 0.02}, {"deg": 123, "val": -0.02}, {"deg": 124.5, "val": 0.015}, {"deg": 126, "val": -0.015},
      {"deg": 127.5, "val": 0.012}, {"deg": 129, "val": -0.012}, {"deg": 131, "val": 0.01}, {"deg": 133, "val": -0.01},
      {"deg": 135, "val": 0.008}, {"deg": 137, "val": -0.008}, {"deg": 140, "val": 0.006}, {"deg": 143, "val": -0.006},
      {"deg": 146, "val": 0.005}, {"deg": 150, "val": -0.004}, {"deg": 154, "val": 0.004}, {"deg": 158, "val": -0.004},
      {"deg": 162, "val": 0.003}, {"deg": 166, "val": -0.003}, {"deg": 170, "val": 0.003}, {"deg": 174, "val": -0.003},
      {"deg": 178, "val": 0.004}, {"deg": 182, "val": -0.004}, {"deg": 186, "val": 0.003}, {"deg": 190, "val": -0.003},
      {"deg": 194, "val": 0.004}, {"deg": 198, "val": -0.003}, {"deg": 202, "val": 0.005}, {"deg": 205, "val": -0.006},
      {"deg": 208, "val": 0.006}, {"deg": 211, "val": -0.006}, {"deg": 214, "val": 0.006}, {"deg": 217, "val": -0.005},
      {"deg": 220, "val": 0.005}, {"deg": 223, "val": -0.006}, {"deg": 226, "val": 0.004}, {"deg": 230, "val": -0.004},
      {"deg": 234, "val": 0.003}, {"deg": 238, "val": -0.003}, {"deg": 242, "val": 0.003}, {"deg": 246, "val": -0.004},
      {"deg": 250, "val": 0.005}, {"deg": 253, "val": -0.005}, {"deg": 256, "val": 0.004}, {"deg": 260, "val": -0.003},
      {"deg": 264, "val": 0.003}, {"deg": 268, "val": -0.003}, {"deg": 272, "val": 0.004}, {"deg": 276, "val": -0.004},
      {"deg": 280, "val": 0.005}, {"deg": 283, "val": -0.006}, {"deg": 286, "val": 0.008}, {"deg": 288, "val": -0.01},
      {"deg": 289.5, "val": 0.012}, {"deg": 291, "val": -0.015}, {"deg": 292.5, "val": 0.012}, {"deg": 294, "val": -0.015},
      {"deg": 295.5, "val": 0.018}, {"deg": 297, "val": -0.015}, {"deg": 298.5, "val": 0.015}, {"deg": 300, "val": -0.018},
      {"deg": 301.5, "val": 0.015}, {"deg": 303, "val": -0.012}, {"deg": 304.5, "val": 0.015}, {"deg": 306, "val": -0.018},
      {"deg": 307.5, "val": 0.02}, {"deg": 309, "val": -0.015}, {"deg": 310.5, "val": 0.015}, {"deg": 312, "val": -0.02},
      {"deg": 313.5, "val": 0.018}, {"deg": 315, "val": -0.015}, {"deg": 316.5, "val": 0.02}, {"deg": 318, "val": -0.018},
      {"deg": 319.5, "val": 0.015}, {"deg": 321, "val": -0.02}, {"deg": 322.5, "val": 0.018}, {"deg": 324, "val": -0.02},
      {"deg": 325.5, "val": 0.022}, {"deg": 327, "val": -0.018}, {"deg": 328.5, "val": 0.02}, {"deg": 330, "val": -0.025},
      {"deg": 331.5, "val": 0.022}, {"deg": 333, "val": -0.02}, {"deg": 334.5, "val": 0.025}, {"deg": 336, "val": -0.02},
      {"deg": 337.5, "val": 0.022}, {"deg": 339, "val": -0.025}, {"deg": 340.5, "val": 0.02}, {"deg": 342, "val": -0.02},
      {"deg": 343.5, "val": 0.022}, {"deg": 345, "val": -0.018}, {"deg": 346.5, "val": 0.02}, {"deg": 348, "val": -0.015},
      {"deg": 350, "val": 0.01}
    ],
    "d5": [
      {"deg": -350, "val": 0}, {"deg": -348, "val": 0.006}, {"deg": -347, "val": -0.006}, {"deg": -346, "val": 0.007},
      {"deg": -345, "val": -0.005}, {"deg": -344, "val": 0.006}, {"deg": -343, "val": -0.007}, {"deg": -342, "val": 0.005},
      {"deg": -341, "val": -0.006}, {"deg": -340, "val": 0.006}, {"deg": -339, "val": -0.004}, {"deg": -338, "val": 0},
      {"deg": -334, "val": 0.005}, {"deg": -333, "val": -0.006}, {"deg": -332, "val": 0.004}, {"deg": -331, "val": 0},
      {"deg": -326, "val": 0.005}, {"deg": -325, "val": -0.005}, {"deg": -324, "val": 0}, {"deg": -315, "val": 0.004},
      {"deg": -314, "val": -0.004}, {"deg": -313, "val": 0}, {"deg": -305, "val": 0.005}, {"deg": -304, "val": -0.005},
      {"deg": -303, "val": 0}, {"deg": -295, "val": 0.006}, {"deg": -294, "val": -0.006}, {"deg": -293, "val": 0},
      {"deg": -260, "val": 0}, {"deg": -254, "val": 0.005}, {"deg": -253, "val": -0.005}, {"deg": -252, "val": 0.004},
      {"deg": -251, "val": -0.004}, {"deg": -250, "val": 0}, {"deg": -240, "val": 0.004}, {"deg": -239, "val": -0.004},
      {"deg": -238, "val": 0}, {"deg": -225, "val": 0.005}, {"deg": -224, "val": -0.005}, {"deg": -223, "val": 0},
      {"deg": -205, "val": 0.004}, {"deg": -204, "val": -0.004}, {"deg": -203, "val": 0}, {"deg": -130, "val": 0},
      {"deg": -125, "val": 0.006}, {"deg": -124, "val": -0.008}, {"deg": -123, "val": 0.01}, {"deg": -122, "val": -0.012},
      {"deg": -121, "val": 0.01}, {"deg": -120, "val": -0.01}, {"deg": -119, "val": 0.008}, {"deg": -118, "val": -0.01},
      {"deg": -117, "val": 0.012}, {"deg": -116, "val": -0.01}, {"deg": -115, "val": 0.008}, {"deg": -114, "val": -0.01},
      {"deg": -113, "val": 0.01}, {"deg": -112, "val": -0.008}, {"deg": -111, "val": 0.006}, {"deg": -110, "val": -0.008},
      {"deg": -109, "val": 0.01}, {"deg": -108, "val": -0.008}, {"deg": -107, "val": 0.006}, {"deg": -106, "val": -0.008},
      {"deg": -105, "val": 0.006}, {"deg": -104, "val": -0.005}, {"deg": -103, "val": 0.006}, {"deg": -102, "val": -0.006},
      {"deg": -101, "val": 0.005}, {"deg": -100, "val": 0}, {"deg": -96, "val": 0.005}, {"deg": -95, "val": -0.005},
      {"deg": -94, "val": 0.004}, {"deg": -93, "val": 0}, {"deg": -88, "val": 0.004}, {"deg": -87, "val": -0.005},
      {"deg": -86, "val": 0}, {"deg": -80, "val": 0.005}, {"deg": -79, "val": -0.004}, {"deg": -78, "val": 0},
      {"deg": -40, "val": 0}, {"deg": -38, "val": 0.006}, {"deg": -37, "val": -0.008}, {"deg": -36, "val": 0.01},
      {"deg": -35, "val": -0.01}, {"deg": -34, "val": 0.008}, {"deg": -33, "val": -0.006}, {"deg": -32, "val": 0.005},
      {"deg": -31, "val": -0.004}, {"deg": -30, "val": 0.004}, {"deg": -28, "val": -0.004}, {"deg": -27, "val": 0.005},
      {"deg": -26, "val": -0.006}, {"deg": -25, "val": 0.004}, {"deg": -24, "val": -0.004}, {"deg": -22, "val": 0.004},
      {"deg": -20, "val": -0.005}, {"deg": -19, "val": 0.006}, {"deg": -18, "val": -0.006}, {"deg": -17, "val": 0.005},
      {"deg": -16, "val": -0.005}, {"deg": -14, "val": 0.004}, {"deg": -12, "val": -0.005}, {"deg": -10, "val": 0.006},
      {"deg": -9, "val": -0.006}, {"deg": -8, "val": 0.005}, {"deg": -7, "val": -0.004}, {"deg": -5, "val": 0.006},
      {"deg": -4, "val": -0.008}, {"deg": -3, "val": 0.01}, {"deg": -2, "val": -0.01}, {"deg": -1, "val": 0.012},
      {"deg": 0, "val": -0.012}, {"deg": 1, "val": 0.01}, {"deg": 2, "val": -0.008}, {"deg": 3, "val": 0.02},
      {"deg": 4, "val": -0.015}, {"deg": 5, "val": 0.01}, {"deg": 6, "val": -0.01}, {"deg": 7, "val": 0.012},
      {"deg": 8, "val": -0.02}, {"deg": 9, "val": 0.015}, {"deg": 10, "val": -0.03}, {"deg": 11, "val": 0.04},
      {"deg": 12, "val": -0.045}, {"deg": 13, "val": 0.07}, {"deg": 14, "val": -0.08}, {"deg": 15, "val": 0.04},
      {"deg": 16, "val": -0.17}, {"deg": 17, "val": 0.18}, {"deg": 18, "val": -0.107}, {"deg": 19, "val": 0.06},
      {"deg": 20, "val": -0.06}, {"deg": 21, "val": 0.05}, {"deg": 22, "val": -0.055}, {"deg": 23, "val": 0.045},
      {"deg": 24, "val": -0.05}, {"deg": 25, "val": 0.04}, {"deg": 26, "val": -0.045}, {"deg": 27, "val": 0.04},
      {"deg": 28, "val": -0.04}, {"deg": 29, "val": 0.035}, {"deg": 30, "val": -0.035}, {"deg": 31, "val": 0.03},
      {"deg": 32, "val": -0.035}, {"deg": 33, "val": 0.03}, {"deg": 34, "val": -0.03}, {"deg": 35, "val": 0.025},
      {"deg": 36, "val": -0.025}, {"deg": 37, "val": 0.02}, {"deg": 38, "val": -0.022}, {"deg": 39, "val": 0.02},
      {"deg": 40, "val": -0.018}, {"deg": 41, "val": 0.015}, {"deg": 42, "val": -0.015}, {"deg": 43, "val": 0.012},
      {"deg": 44, "val": -0.012}, {"deg": 45, "val": 0.012}, {"deg": 46, "val": -0.01}, {"deg": 47, "val": 0.01},
      {"deg": 48, "val": -0.01}, {"deg": 49, "val": 0.008}, {"deg": 50, "val": -0.008}, {"deg": 51, "val": 0.008},
      {"deg": 52, "val": -0.008}, {"deg": 53, "val": 0.01}, {"deg": 54, "val": -0.008}, {"deg": 55, "val": 0.006},
      {"deg": 56, "val": -0.008}, {"deg": 57, "val": 0.006}, {"deg": 58, "val": -0.006}, {"deg": 59, "val": 0.006},
      {"deg": 60, "val": -0.006}, {"deg": 62, "val": 0.006}, {"deg": 64, "val": -0.006}, {"deg": 66, "val": 0.006},
      {"deg": 68, "val": -0.005}, {"deg": 70, "val": 0.005}, {"deg": 72, "val": -0.006}, {"deg": 74, "val": 0.005},
      {"deg": 76, "val": -0.006}, {"deg": 78, "val": 0.006}, {"deg": 80, "val": -0.005}, {"deg": 82, "val": 0.006},
      {"deg": 84, "val": -0.006}, {"deg": 86, "val": 0.005}, {"deg": 88, "val": -0.004}, {"deg": 90, "val": 0.005},
      {"deg": 92, "val": -0.005}, {"deg": 94, "val": 0.006}, {"deg": 96, "val": -0.006}, {"deg": 98, "val": 0.006},
      {"deg": 100, "val": -0.006}, {"deg": 102, "val": 0.007}, {"deg": 104, "val": -0.007}, {"deg": 106, "val": 0.006},
      {"deg": 108, "val": -0.006}, {"deg": 110, "val": 0.006}, {"deg": 112, "val": -0.005}, {"deg": 114, "val": 0.005},
      {"deg": 116, "val": -0.004}, {"deg": 118, "val": 0.004}, {"deg": 120, "val": -0.005}, {"deg": 122, "val": 0.005},
      {"deg": 124, "val": -0.004}, {"deg": 126, "val": 0.004}, {"deg": 128, "val": 0}, {"deg": 135, "val": 0.004},
      {"deg": 136, "val": -0.004}, {"deg": 137, "val": 0}, {"deg": 150, "val": 0.005}, {"deg": 151, "val": -0.005},
      {"deg": 152, "val": 0.004}, {"deg": 153, "val": -0.004}, {"deg": 154, "val": 0}, {"deg": 165, "val": 0.004},
      {"deg": 166, "val": -0.005}, {"deg": 167, "val": 0}, {"deg": 185, "val": 0.005}, {"deg": 186, "val": -0.005},
      {"deg": 187, "val": 0.004}, {"deg": 188, "val": -0.004}, {"deg": 189, "val": 0.005}, {"deg": 190, "val": -0.004},
      {"deg": 191, "val": 0}, {"deg": 205, "val": 0.004}, {"deg": 206, "val": -0.004}, {"deg": 207, "val": 0},
      {"deg": 230, "val": 0.004}, {"deg": 231, "val": -0.004}, {"deg": 232, "val": 0}, {"deg": 245, "val": 0.005},
      {"deg": 246, "val": -0.005}, {"deg": 247, "val": 0}, {"deg": 255, "val": 0.004}, {"deg": 256, "val": -0.004},
      {"deg": 257, "val": 0}, {"deg": 270, "val": 0.005}, {"deg": 271, "val": -0.005}, {"deg": 272, "val": 0},
      {"deg": 285, "val": 0.004}, {"deg": 286, "val": -0.004}, {"deg": 287, "val": 0}, {"deg": 300, "val": 0.004},
      {"deg": 301, "val": -0.004}, {"deg": 302, "val": 0}, {"deg": 318, "val": 0.005}, {"deg": 319, "val": -0.006},
      {"deg": 320, "val": 0.008}, {"deg": 321, "val": -0.01}, {"deg": 322, "val": 0.012}, {"deg": 323, "val": -0.01},
      {"deg": 324, "val": 0.008}, {"deg": 325, "val": -0.006}, {"deg": 326, "val": 0.01}, {"deg": 327, "val": -0.012},
      {"deg": 328, "val": 0.015}, {"deg": 329, "val": -0.012}, {"deg": 330, "val": 0.01}, {"deg": 331, "val": -0.008},
      {"deg": 332, "val": 0.006}, {"deg": 333, "val": -0.005}, {"deg": 334, "val": 0}, {"deg": 340, "val": 0.004},
      {"deg": 341, "val": -0.004}, {"deg": 342, "val": 0}, {"deg": 350, "val": 0}
    ]
  },
  "columns": 2,
  "bounds": "flush",
  "spacing": {"row": 366, "column": 355},
  "concat": [
    {
      "width": 1517, "height": 145,
      "data": {"name": "a5"},
      "mark": {"type": "line", "color": "black", "strokeWidth": 2, "clip": true},
      "encoding": {
        "x": {"field": "deg", "type": "quantitative", "scale": {"domain": [-350, 350], "nice": false, "zero": false},
              "axis": {"title": ["曲轴转角/(°)", "(a)"], "values": [-300, -200, -100, 0, 100, 200, 300], "format": ".6~g"}},
        "y": {"field": "val", "type": "quantitative", "scale": {"domain": [-10, 35], "nice": false, "zero": false},
              "axis": {"title": "a₅/10⁵ Pa", "values": [0, 15, 30], "format": ".6~g"}}
      }
    },
    {
      "width": 1517, "height": 145,
      "data": {"name": "d1"},
      "mark": {"type": "line", "color": "black", "strokeWidth": 2.6, "clip": true},
      "encoding": {
        "x": {"field": "deg", "type": "quantitative", "scale": {"domain": [-350, 350], "nice": false, "zero": false},
              "axis": {"title": ["曲轴转角/(°)", "(b)"], "values": [-300, -200, -100, 0, 100, 200, 300], "format": ".6~g"}},
        "y": {"field": "val", "type": "quantitative", "scale": {"domain": [-0.2, 0.2], "nice": false, "zero": false},
              "axis": {"title": "d₁/10⁵ Pa", "values": [-0.2, 0, 0.2], "format": ".6~g", "grid": true, "gridWidth": 4}}
      }
    },
    {
      "width": 1517, "height": 145,
      "data": {"name": "d2"},
      "mark": {"type": "line", "color": "black", "strokeWidth": 2.6, "clip": true},
      "encoding": {
        "x": {"field": "deg", "type": "quantitative", "scale": {"domain": [-350, 350], "nice": false, "zero": false},
              "axis": {"title": ["曲轴转角/(°)", "(c)"], "values": [-300, -200, -100, 0, 100, 200, 300], "format": ".6~g"}},
        "y": {"field": "val", "type": "quantitative", "scale": {"domain": [-0.15, 0.15], "nice": false, "zero": false},
              "axis": {"title": "d₂/10⁵ Pa", "values": [-0.15, 0, 0.15], "format": ".6~g", "grid": true, "gridWidth": 5}}
      }
    },
    {
      "width": 1517, "height": 145,
      "data": {"name": "d3"},
      "mark": {"type": "line", "color": "black", "strokeWidth": 2.6, "clip": true},
      "encoding": {
        "x": {"field": "deg", "type": "quantitative", "scale": {"domain": [-350, 350], "nice": false, "zero": false},
              "axis": {"title": ["曲轴转角/(°)", "(d)"], "values": [-300, -200, -100, 0, 100, 200, 300], "format": ".6~g"}},
        "y": {"field": "val", "type": "quantitative", "scale": {"domain": [-0.25, 0.25], "nice": false, "zero": false},
              "axis": {"title": "d₃/10⁵ Pa", "values": [-0.25, 0, 0.25], "format": ".6~g", "grid": true, "gridWidth": 5}}
      }
    },
    {
      "width": 1517, "height": 145,
      "data": {"name": "d4"},
      "mark": {"type": "line", "color": "black", "strokeWidth": 2.2, "clip": true},
      "encoding": {
        "x": {"field": "deg", "type": "quantitative", "scale": {"domain": [-350, 350], "nice": false, "zero": false},
              "axis": {"title": ["曲轴转角/(°)", "(e)"], "values": [-300, -200, -100, 0, 100, 200, 300], "format": ".6~g"}},
        "y": {"field": "val", "type": "quantitative", "scale": {"domain": [-0.3, 0.3], "nice": false, "zero": false},
              "axis": {"title": "d₄/10⁵ Pa", "values": [-0.3, 0, 0.3], "format": ".6~g", "grid": true, "gridWidth": 3.5}}
      }
    },
    {
      "width": 1517, "height": 145,
      "data": {"name": "d5"},
      "mark": {"type": "line", "color": "black", "strokeWidth": 1.8, "clip": true},
      "encoding": {
        "x": {"field": "deg", "type": "quantitative", "scale": {"domain": [-350, 350], "nice": false, "zero": false},
              "axis": {"title": ["曲轴转角/(°)", "(f)"], "values": [-300, -200, -100, 0, 100, 200, 300], "format": ".6~g"}},
        "y": {"field": "val", "type": "quantitative", "scale": {"domain": [-0.2, 0.2], "nice": false, "zero": false},
              "axis": {"title": "d₅/10⁵ Pa", "values": [-0.2, 0, 0.2], "format": ".6~g", "grid": true, "gridWidth": 3}}
      }
    }
  ],
  "config": {
    "font": "Liberation Serif, Noto Sans CJK SC",
    "view": {"stroke": "black", "strokeWidth": 4},
    "axis": {
      "labelFont": "Liberation Serif, Noto Sans CJK SC",
      "labelFontSize": 66,
      "labelColor": "black",
      "labelOverlap": false,
      "titleFont": "Liberation Serif, Noto Sans CJK SC",
      "titleFontSize": 66,
      "titleFontWeight": "normal",
      "titleColor": "black",
      "tickColor": "black",
      "tickWidth": 3.5,
      "tickSize": -20,
      "domain": false,
      "grid": false,
      "gridColor": "black",
      "gridOpacity": 1
    },
    "axisX": {
      "labelPadding": 37,
      "labelBaseline": "top",
      "labelFlush": false,
      "titleY": 101,
      "titleBaseline": "top",
      "titleLineHeight": 98
    },
    "axisY": {
      "labelPadding": 52,
      "labelBaseline": "middle",
      "titleX": -213,
      "titleY": 78,
      "titleAngle": -90,
      "titleAlign": "center",
      "titleBaseline": "alphabetic"
    }
  }
}
